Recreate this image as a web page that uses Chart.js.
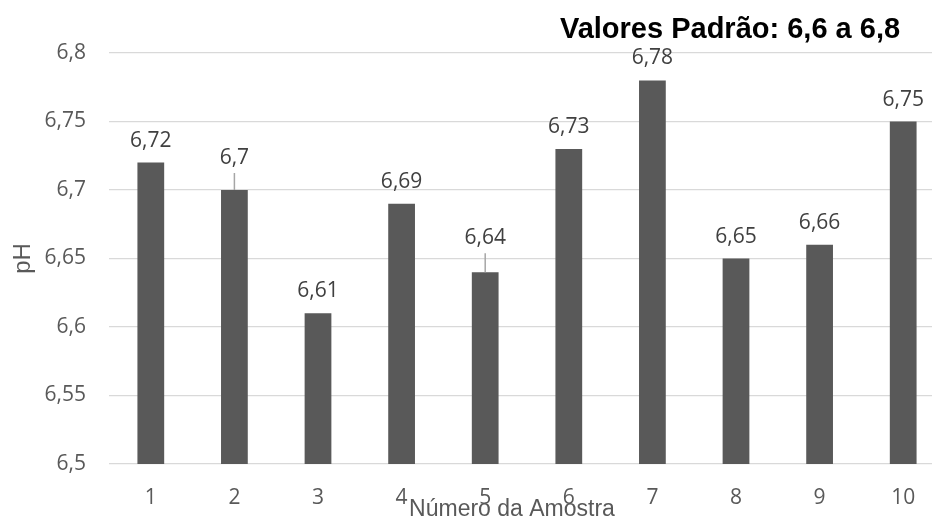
<!DOCTYPE html>
<html>
<head>
<meta charset="utf-8">
<script src="https://cdn.jsdelivr.net/npm/chart.js@4/dist/chart.umd.min.js"></script>
<style>
  html, body { margin: 0; padding: 0; background: #fff; overflow: hidden; }
  #wrap { width: 946px; height: 520px; }
</style>
</head>
<body>
<div id="wrap"><canvas id="phChart" width="946" height="520"></canvas></div>
<script>
// Dados das amostras
const amostras = ['1', '2', '3', '4', '5', '6', '7', '8', '9', '10'];
const valoresPH = [6.72, 6.7, 6.61, 6.69, 6.64, 6.73, 6.78, 6.65, 6.66, 6.75];
const yMin = 6.5;
const yMax = 6.8;
const yPasso = 0.05;

const tituloGrafico = 'Valores Padrão: 6,6 a 6,8';
const tituloX = 'Número da Amostra';
const tituloY = 'pH';

const cinzaBarra = '#595959';
const cinzaTexto = '#595959';
const cinzaGrade = '#d9d9d9';

// rótulos que ficam deslocados para cima com linha de chamada (índice -> px)
const rotulosDeslocados = { 1: 10, 4: 12 };

function virgula(v) {
    return String(Math.round(v * 100) / 100).replace('.', ',');
}

// desenha rótulos de dados, título e título do eixo X
const extras = {
    id: 'extras',
    afterDatasetsDraw(chart) {
        const ctx = chart.ctx;
        const meta = chart.getDatasetMeta(0);
        ctx.save();
        ctx.font = '21px "Open Sans"';
        ctx.fillStyle = '#404040';
        ctx.textAlign = 'center';
        ctx.textBaseline = 'alphabetic';
        meta.data.forEach((bar, i) => {
            const extra = rotulosDeslocados[i] || 0;
            const base = bar.y - 16 - extra;
            ctx.fillText(virgula(valoresPH[i]), bar.x, base);
            if (extra) {
                ctx.strokeStyle = '#a6a6a6';
                ctx.lineWidth = 1.5;
                ctx.beginPath();
                ctx.moveTo(bar.x, base + 9);
                ctx.lineTo(bar.x, bar.y);
                ctx.stroke();
            }
        });

        // título do gráfico
        ctx.font = 'bold 29px "Liberation Sans", Arial';
        ctx.fillStyle = '#000';
        ctx.fillText(tituloGrafico, 730, 38);

        // título do eixo X (sobreposto aos rótulos, como no original)
        ctx.font = '23px "Liberation Sans", Arial';
        ctx.fillStyle = cinzaTexto;
        ctx.fillText(tituloX, 512, 516);
        ctx.restore();
    }
};

const ctx = document.getElementById('phChart').getContext('2d');
const phChart = new Chart(ctx, {
    type: 'bar',
    data: {
        labels: amostras,
        datasets: [{
            label: 'pH',
            data: valoresPH,
            backgroundColor: cinzaBarra,
            borderWidth: 0,
            categoryPercentage: 1,
            barPercentage: 0.32
        }]
    },
    options: {
        responsive: false,
        animation: false,
        devicePixelRatio: 1,
        layout: {
            padding: { top: 53, right: 1, left: 0, bottom: 0 }
        },
        plugins: {
            legend: { display: false },
            tooltip: { enabled: false }
        },
        scales: {
            x: {
                grid: { display: false },
                border: { display: false },
                ticks: {
                    color: cinzaTexto,
                    font: { family: 'Open Sans', size: 21 },
                    padding: 13,
                    maxRotation: 0
                },
                afterFit(scale) { scale.height = 56; }
            },
            y: {
                min: yMin,
                max: yMax,
                grid: {
                    color: cinzaGrade,
                    lineWidth: 1.3,
                    drawTicks: false
                },
                border: { display: false },
                ticks: {
                    stepSize: yPasso,
                    color: cinzaTexto,
                    font: { family: 'Open Sans', size: 21 },
                    padding: 23,
                    callback: function (value) {
                        return virgula(value);
                    }
                },
                title: {
                    display: true,
                    text: tituloY,
                    color: cinzaTexto,
                    font: { family: 'Liberation Sans', size: 24 },
                    padding: { top: 9, bottom: 0 }
                },
                afterFit(scale) { scale.width = 109; }
            }
        }
    },
    plugins: [extras]
});
</script>
</body>
</html>
